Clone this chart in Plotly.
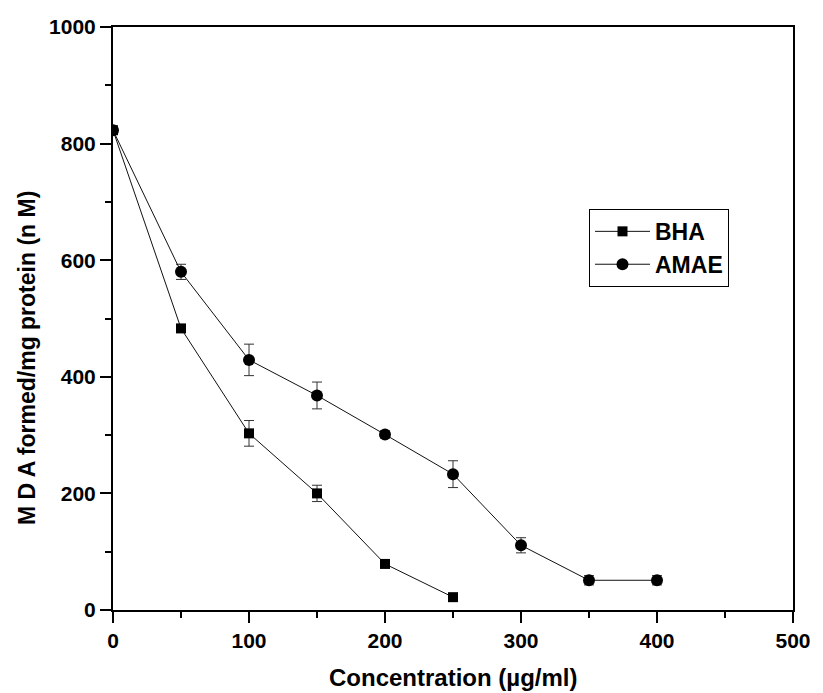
import plotly.graph_objects as go

conc_bha = [0, 50, 100, 150, 200, 250]
mda_bha = [823, 483, 303, 200, 79, 22]
err_bha = [6, 6, 22, 14, 6, 6]

conc_amae = [0, 50, 100, 150, 200, 250, 300, 350, 400]
mda_amae = [823, 580, 429, 368, 301, 233, 111, 51, 51]
err_amae = [6, 13, 27, 23, 6, 23, 13, 8, 8]

x_ticks = [0, 100, 200, 300, 400, 500]
y_ticks = [0, 200, 400, 600, 800, 1000]

FONT = "Liberation Sans, Arial, sans-serif"

fig = go.Figure()
fig.add_trace(go.Scatter(
    x=conc_bha, y=mda_bha, name="BHA", mode="lines+markers",
    line=dict(color="#111111", width=1),
    marker=dict(symbol="square", size=10, color="black"),
    error_y=dict(type="data", array=err_bha, color="#333333", thickness=1, width=5),
))
fig.add_trace(go.Scatter(
    x=conc_amae, y=mda_amae, name="AMAE", mode="lines+markers",
    line=dict(color="#111111", width=1),
    marker=dict(symbol="circle", size=12, color="black"),
    error_y=dict(type="data", array=err_amae, color="#333333", thickness=1, width=5),
))

axis_common = dict(
    showgrid=False, zeroline=False, showline=True, linecolor="black", linewidth=2,
    mirror=True, ticks="outside", ticklen=11, tickwidth=2, tickcolor="black",
    tickfont=dict(family=FONT, size=21, color="black", weight="bold"),
)

fig.update_layout(
    width=823, height=693,
    margin=dict(l=113, r=19, t=27, b=83),
    paper_bgcolor="white", plot_bgcolor="white",
    font=dict(family=FONT, color="black"),
    xaxis=dict(range=[0, 500], tickvals=x_ticks,
               minor=dict(ticks="outside", ticklen=6, tickwidth=2, tickcolor="black", dtick=50),
               **axis_common),
    yaxis=dict(range=[0, 1000], tickvals=y_ticks,
               minor=dict(ticks="outside", ticklen=6, tickwidth=2, tickcolor="black", dtick=100),
               **axis_common),
    legend=dict(
        x=0.70, y=0.688, xanchor="left", yanchor="top",
        bordercolor="black", borderwidth=1, bgcolor="white",
        font=dict(family=FONT, size=23, color="black", weight="bold"),
        tracegroupgap=0, itemwidth=55,
    ),
)

fig.add_annotation(
    text="Concentration (µg/ml)", xref="paper", yref="paper",
    x=0.5, y=-0.0, yshift=-67, xanchor="center", yanchor="middle", showarrow=False,
    font=dict(family=FONT, size=24, color="black", weight="bold"),
)
fig.add_annotation(
    text="M D A formed/mg protein (n M)", xref="paper", yref="paper",
    x=0, xshift=-86, y=(610 - 358) / 583.0, textangle=-90,
    xanchor="center", yanchor="middle", showarrow=False,
    font=dict(family=FONT, size=23, color="black", weight="bold"),
)

fig.write_html("out.html")
